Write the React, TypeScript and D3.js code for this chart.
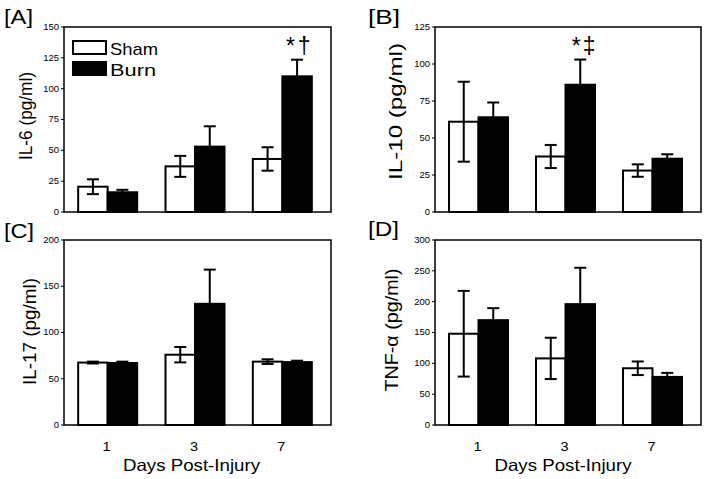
import React from "react";
import * as d3 from "d3";

const days = ["1", "3", "7"];
const seriesNames = ["Sham", "Burn"];

const il6Sham = [20.5, 37, 43];
const il6ShamErr = [6, 8.5, 9.5];
const il6Burn = [16, 53, 110];
const il6BurnErr = [2, 16.5, 13.5];
const il6Marks = ["", "", "*†"];
const il6Ticks = [0, 25, 50, 75, 100, 125, 150];

const il10Sham = [61, 37.5, 28];
const il10ShamErr = [27, 7.8, 4.2];
const il10Burn = [64, 86, 36];
const il10BurnErr = [10, 17, 3];
const il10Marks = ["", "*‡", ""];
const il10Ticks = [0, 25, 50, 75, 100, 125];

const il17Sham = [67.5, 76, 68.5];
const il17ShamErr = [1, 8.3, 2.5];
const il17Burn = [67, 131, 68];
const il17BurnErr = [1.5, 37, 1.5];
const il17Marks = ["", "", ""];
const il17Ticks = [0, 50, 100, 150, 200];

const tnfSham = [148, 108, 92];
const tnfShamErr = [69.5, 33.5, 11];
const tnfBurn = [170, 196, 78];
const tnfBurnErr = [19.5, 59, 6.5];
const tnfMarks = ["", "", ""];
const tnfTicks = [0, 50, 100, 150, 200, 250, 300];

const panelLabels = ["[A]", "[B]", "[C]", "[D]"];
const yTitles = ["IL-6 (pg/ml)", "IL-10 (pg/ml)", "IL-17 (pg/ml)", "TNF-α (pg/ml)"];
const xTitle = "Days Post-Injury";

const FONT = "'Liberation Sans', Arial, sans-serif";
const SX = 1.12;

type PanelCfg = {
  left: number; right: number; top: number; bottom: number;
  sham: number[]; shamErr: number[]; burn: number[]; burnErr: number[];
  marks: string[]; ticks: number[]; label: string; yTitle: string;
  yTitleX: number; yTitleY: number; yTitleLen: number;
  labelX: number; labelY: number; labelLen: number;
  showX: boolean; xTitleX: number; legend: boolean;
  markDx: number[];
};

const panels: PanelCfg[] = [
  {
    left: 64, right: 331, top: 27, bottom: 212,
    sham: il6Sham, shamErr: il6ShamErr, burn: il6Burn, burnErr: il6BurnErr,
    marks: il6Marks, ticks: il6Ticks, label: panelLabels[0], yTitle: yTitles[0],
    yTitleX: 26, yTitleY: 116, yTitleLen: 88,
    labelX: 4, labelY: 24, labelLen: 29,
    showX: false, xTitleX: 0, legend: true, markDx: [-6.5, 7],
  },
  {
    left: 435, right: 701, top: 27, bottom: 212,
    sham: il10Sham, shamErr: il10ShamErr, burn: il10Burn, burnErr: il10BurnErr,
    marks: il10Marks, ticks: il10Ticks, label: panelLabels[1], yTitle: yTitles[1],
    yTitleX: 396, yTitleY: 111.5, yTitleLen: 137,
    labelX: 368, labelY: 23.5, labelLen: 32,
    showX: false, xTitleX: 0, legend: false, markDx: [-4, 9],
  },
  {
    left: 64, right: 331, top: 240, bottom: 425,
    sham: il17Sham, shamErr: il17ShamErr, burn: il17Burn, burnErr: il17BurnErr,
    marks: il17Marks, ticks: il17Ticks, label: panelLabels[2], yTitle: yTitles[2],
    yTitleX: 30, yTitleY: 331.5, yTitleLen: 107,
    labelX: 4, labelY: 238, labelLen: 30,
    showX: true, xTitleX: 191.5, legend: false, markDx: [0, 0],
  },
  {
    left: 435, right: 701, top: 240, bottom: 425,
    sham: tnfSham, shamErr: tnfShamErr, burn: tnfBurn, burnErr: tnfBurnErr,
    marks: tnfMarks, ticks: tnfTicks, label: panelLabels[3], yTitle: yTitles[3],
    yTitleX: 392, yTitleY: 330, yTitleLen: 123,
    labelX: 368, labelY: 236, labelLen: 31,
    showX: true, xTitleX: 563, legend: false, markDx: [0, 0],
  },
];

function Panel({ p }: { p: PanelCfg }) {
  const y = d3.scaleLinear().domain([0, p.ticks[p.ticks.length - 1]]).range([p.bottom, p.top]);
  const x = d3.scalePoint<string>().domain(days).range([p.left, p.right - 5]).padding(0.5);
  const barW = 29.5;
  const capW = 12;
  const err = (cx: number, v: number, e: number, key: string) => (
    <g key={key} stroke="#000" strokeWidth={2}>
      <line x1={cx} x2={cx} y1={y(v - e)} y2={y(v + e)} />
      <line x1={cx - capW / 2} x2={cx + capW / 2} y1={y(v + e)} y2={y(v + e)} />
      <line x1={cx - capW / 2} x2={cx + capW / 2} y1={y(v - e)} y2={y(v - e)} />
    </g>
  );
  return (
    <g fontFamily={FONT}>
      {days.map((d, i) => {
        const c = x(d)!;
        return (
          <g key={"b" + d}>
            <rect x={c - barW} y={y(p.sham[i])} width={barW} height={y(0) - y(p.sham[i])}
              fill="#fff" stroke="#000" strokeWidth={2} />
            <rect x={c} y={y(p.burn[i])} width={barW} height={y(0) - y(p.burn[i])}
              fill="#000" stroke="#000" strokeWidth={2} />
          </g>
        );
      })}
      {days.map((d, i) => {
        const c = x(d)!;
        return (
          <g key={"e" + d}>
            {err(c - barW / 2, p.sham[i], p.shamErr[i], "s")}
            {err(c + barW / 2, p.burn[i], p.burnErr[i], "u")}
          </g>
        );
      })}
      {days.map((d, i) => {
        const m = p.marks[i];
        if (!m) return null;
        const cx = x(d)! + barW / 2;
        const base = y(p.burn[i] + p.burnErr[i]) - 6;
        return (
          <g key={"m" + d} fontSize={23} textAnchor="middle" fill="#000">
            {Array.from(m).map((ch, k) => (
              <text key={k} x={cx + p.markDx[k]} y={base}>{ch}</text>
            ))}
          </g>
        );
      })}
      <rect x={p.left} y={p.top} width={p.right - p.left} height={p.bottom - p.top}
        fill="none" stroke="#000" strokeWidth={1.5} />
      {p.ticks.map((t) => (
        <g key={"t" + t}>
          <line x1={p.left - 3} x2={p.left} y1={y(t)} y2={y(t)} stroke="#000" strokeWidth={1} />
          <text transform={`translate(${p.left - 5},${y(t)}) scale(${SX},1)`} dy="0.35em"
            textAnchor="end" fontSize={8.5} fill="#000">{t}</text>
        </g>
      ))}
      <text transform={`translate(${p.yTitleX},${p.yTitleY}) scale(${SX},1) rotate(-90)`}
        dy="0.35em" textAnchor="middle" fontSize={16.5} fill="#000"
        textLength={p.yTitleLen} lengthAdjust="spacingAndGlyphs">{p.yTitle}</text>
      <text x={p.labelX} y={p.labelY} fontSize={21} fill="#000"
        textLength={p.labelLen} lengthAdjust="spacingAndGlyphs">{p.label}</text>
      {p.showX && days.map((d) => (
        <text key={"x" + d} transform={`translate(${x(d)! - 1},${p.bottom + 26}) scale(${SX},1)`}
          textAnchor="middle" fontSize={13} fill="#000">{d}</text>
      ))}
      {p.showX && (
        <text x={p.xTitleX} y={p.bottom + 46} textAnchor="middle" fontSize={16.5} fill="#000"
          textLength={137} lengthAdjust="spacingAndGlyphs">{xTitle}</text>
      )}
      {p.legend && seriesNames.map((s, k) => (
        <g key={"l" + s}>
          <rect x={p.left + 9} y={p.top + 14 + k * 21} width={33} height={13}
            fill={k === 0 ? "#fff" : "#000"} stroke="#000" strokeWidth={2} />
          <text x={p.left + 46} y={p.top + 27.5 + k * 21} fontSize={16.4} fill="#000"
            textLength={k === 0 ? 48 : 46} lengthAdjust="spacingAndGlyphs">{s}</text>
        </g>
      ))}
    </g>
  );
}

export default function App() {
  return (
    <svg width={706} height={479} viewBox="0 0 706 479"
      style={{ position: "absolute", left: 0, top: 0, background: "#fff" }}>
      <rect x={0} y={0} width={706} height={479} fill="#fff" />
      {panels.map((p, i) => <Panel key={i} p={p} />)}
    </svg>
  );
}
